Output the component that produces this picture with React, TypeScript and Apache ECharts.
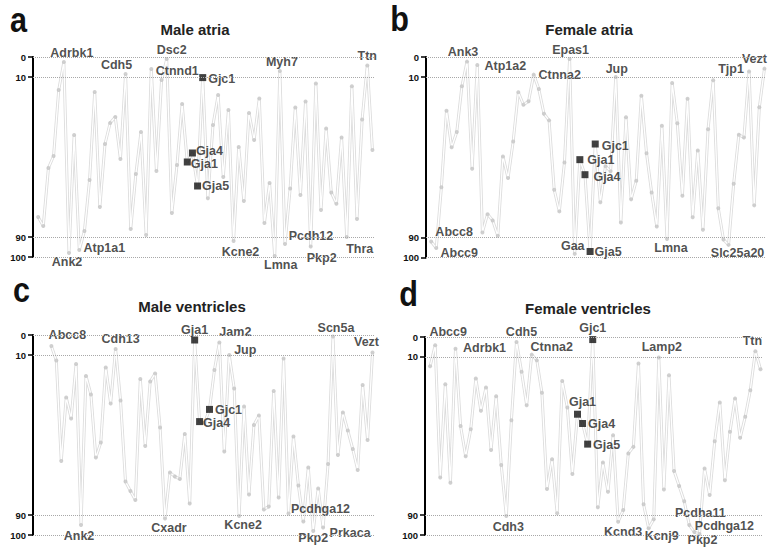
import React, { useEffect, useRef } from "react";
import * as echarts from "echarts";

// ---------- data ----------
const panelLetters = ["a", "b", "c", "d"];
const panelTitles = ["Male atria", "Female atria", "Male ventricles", "Female ventricles"];
const yTickValues = [0, 10, 90, 100];

const valuesA = [
  80, 84.5, 55.5, 49.5, 16.5, 2.5, 98, 39, 96.5, 87, 61.5, 17.5, 75, 43.5, 33, 30, 51, 8.5, 86, 58.5,
  37.5, 89, 6, 57, 11.5, 1, 78, 54, 23.5, 52.5, 48, 64.5, 10.3, 70.6, 34, 19, 60, 26.5, 92, 45,
  72, 28, 41.5, 20.7, 83, 63, 99.5, 7, 93.5, 65.7, 25.3, 69, 22.3, 94.8, 13.2, 76.5, 35.7, 67.8, 73.4, 40.2,
  90, 14.6, 81, 31.2, 4.2, 46.5,
];
const valuesB = [
  92, 95.3, 65, 26.8, 45, 37.4, 14.6, 2.3, 55.7, 4, 87.5, 78.4, 81.5, 89.2, 49.6, 60.4, 42.1, 17.6, 23.8, 22.1,
  8.8, 16, 28.3, 31.6, 66.2, 77, 52.6, 1, 98.2, 51.2, 58.7, 97, 43.4, 72.4, 54.5, 57, 10, 82.5, 30, 71,
  61.7, 19.3, 48, 67.6, 84.5, 34.3, 90.8, 13, 33, 69.2, 20.8, 79.9, 46.6, 86.2, 36, 11.6, 75.4, 91, 93.7, 63.2,
  38.8, 40.1, 7.2, 74, 25.1, 5.8,
];
const valuesC = [
  5.5, 12.8, 63, 31.2, 41.7, 14.5, 95, 20.5, 29.7, 61.3, 53.8, 16.2, 34.2, 7, 32.8, 73.3, 78, 82.5, 22, 55.5,
  23.3, 19.2, 46.3, 91.7, 68.8, 70.8, 72, 49.5, 84.2, 2.5, 43.3, 44, 37.2, 17.5, 3.8, 58.3, 10, 26.7, 90.5, 35.8,
  79.7, 45, 40.3, 87.2, 85.8, 28, 81.3, 11.7, 89.2, 50.8, 75.3, 93.3, 66.2, 98, 76.7, 96.3, 64.5, 0.8, 60, 38.8,
  47.8, 57, 67.5, 25, 52.5, 8.8,
];
const valuesD = [
  14.8, 4.2, 71, 23.9, 73.6, 5.9, 45, 60.2, 46.6, 21, 37.3, 25.5, 57.1, 29.9, 64.7, 90.4, 42, 2.5, 17.6, 34.5,
  8.9, 11.8, 28.2, 76.8, 61.7, 89, 22.2, 35.6, 69.2, 39, 43.7, 54.1, 1.3, 86, 63.4, 78.2, 49.6, 93.3, 87.4, 58.8,
  55.5, 13.4, 84.5, 96.6, 92.1, 10.4, 77, 19.3, 67.7, 75.3, 83, 95, 98.5, 99.5, 66.4, 79.8, 52.6, 33.1, 72.3, 47.9,
  31.1, 50.9, 40.3, 26.9, 7.2, 16.3,
];

// labelled genes (index in the sorted gene list, name)
const genesA: [number, string][] = [
  [5, "Adrbk1"], [6, "Ank2"], [8, "Atp1a1"], [17, "Cdh5"], [22, "Ctnnd1"], [25, "Dsc2"],
  [38, "Kcne2"], [46, "Lmna"], [47, "Myh7"], [48, "Pcdh12"], [53, "Pkp2"], [60, "Thra"], [64, "Ttn"],
];
const genesB: [number, string][] = [
  [0, "Abcc8"], [1, "Abcc9"], [7, "Ank3"], [9, "Atp1a2"], [20, "Ctnna2"], [27, "Epas1"], [28, "Gaa"],
  [36, "Jup"], [46, "Lmna"], [58, "Slc25a20"], [62, "Tjp1"], [65, "Vezt"],
];
const genesC: [number, string][] = [
  [0, "Abcc8"], [6, "Ank2"], [13, "Cdh13"], [23, "Cxadr"], [34, "Jam2"], [36, "Jup"], [38, "Kcne2"],
  [48, "Pcdhga12"], [53, "Pkp2"], [55, "Prkaca"], [57, "Scn5a"], [65, "Vezt"],
];
const genesD: [number, string][] = [
  [1, "Abcc9"], [5, "Adrbk1"], [15, "Cdh3"], [17, "Cdh5"], [20, "Ctnna2"], [37, "Kcnd3"], [43, "Kcnj9"],
  [45, "Lamp2"], [51, "Pcdha11"], [52, "Pcdhga12"], [53, "Pkp2"], [64, "Ttn"],
];
// connexins (black squares)
const connexinsA: [number, string][] = [[29, "Gja1"], [30, "Gja4"], [31, "Gja5"], [32, "Gjc1"]];
const connexinsB: [number, string][] = [[29, "Gja1"], [30, "Gja4"], [31, "Gja5"], [32, "Gjc1"]];
const connexinsC: [number, string][] = [[29, "Gja1"], [30, "Gja4"], [32, "Gjc1"]];
const connexinsD: [number, string][] = [[29, "Gja1"], [30, "Gja4"], [31, "Gja5"], [32, "Gjc1"]];

// ---------- layout / style ----------
const offsetsA: Record<string, [number, number]> = {
  Adrbk1: [8, -9], Ank2: [-2, 9], Atp1a1: [25, -2], Cdh5: [-9, -9], Ctnnd1: [26, 2], Dsc2: [5, -9],
  Gja1: [17, 2], Gja4: [17, -2], Gja5: [18, 0], Gjc1: [19, 1], Kcne2: [7, 11], Lmna: [6, 9], Myh7: [2, -9],
  Pcdh12: [26, -8], Pkp2: [11, 11], Thra: [13, 12], Ttn: [0, -9],
};
const offsetsB: Record<string, [number, number]> = {
  Abcc8: [23, -9], Abcc9: [23, 5], Ank3: [-4, -10], Atp1a2: [28, 1], Ctnna2: [26, 0], Epas1: [1, -9],
  Gaa: [-2, -8], Gja1: [21, 0], Gja4: [22, 2], Gja5: [18, 1], Gjc1: [20, 2], Jup: [1, -8], Lmna: [4, 9],
  Slc25a20: [9, 8], Tjp1: [-18, -2], Vezt: [-10, -10],
};
const offsetsC: Record<string, [number, number]> = {
  Abcc8: [16, -11], Ank2: [-2, 11], Cdh13: [5, -10], Cxadr: [4, 10], Gja1: [0, -10], Gja4: [17, 1],
  Gjc1: [19, 1], Jam2: [16, -11], Jup: [16, -5], Kcne2: [4, 9], Pcdhga12: [32, -4], Pkp2: [0, 7],
  Prkaca: [27, 5], Scn5a: [3, -9], Vezt: [-6, -11],
};
const offsetsD: Record<string, [number, number]> = {
  Abcc9: [13, -13], Adrbk1: [29, -1], Cdh3: [2, 11], Cdh5: [5, -10], Ctnna2: [20, -8], Gja1: [5, -12],
  Gja4: [19, 0], Gja5: [19, 1], Gjc1: [0, -12], Kcnd3: [5, 10], Kcnj9: [13, 8], Lamp2: [3, -11],
  Pcdha11: [11, -12], Pcdhga12: [30, -6], Pkp2: [3, 6], Ttn: [-3, -10],
};

const panels = [
  { values: valuesA, genes: genesA, conn: connexinsA, offsets: offsetsA,
    grid: { left: 33, top: 57, width: 342, height: 200 }, xMin: -1, xMax: 65.5,
    letter: { x: 18.5, y: 20 }, title: { x: 195, y: 29 } },
  { values: valuesB, genes: genesB, conn: connexinsB, offsets: offsetsB,
    grid: { left: 426, top: 57, width: 340, height: 200.5 }, xMin: -1, xMax: 65.3,
    letter: { x: 399.5, y: 18.5 }, title: { x: 589, y: 29 } },
  { values: valuesC, genes: genesC, conn: connexinsC, offsets: offsetsC,
    grid: { left: 33, top: 335, width: 341, height: 200 }, xMin: -3.72, xMax: 65.3,
    letter: { x: 21.5, y: 290 }, title: { x: 192, y: 306 } },
  { values: valuesD, genes: genesD, conn: connexinsD, offsets: offsetsD,
    grid: { left: 425, top: 337, width: 337, height: 198 }, xMin: -1, xMax: 65.3,
    letter: { x: 408.5, y: 294 }, title: { x: 588, y: 308 } },
];

const FONT = "'Liberation Sans', Arial, Helvetica, sans-serif";
const labelBase = {
  show: true,
  position: "inside",
  fontFamily: FONT,
  fontWeight: "bold",
  fontSize: 12.5,
  color: "#222",
};

function buildOption() {
  const grid: any[] = [];
  const xAxis: any[] = [];
  const yAxis: any[] = [];
  const series: any[] = [];
  const graphic: any[] = [];

  panels.forEach((p, k) => {
    grid.push({ ...p.grid, containLabel: false });
    xAxis.push({ gridIndex: k, type: "value", min: p.xMin, max: p.xMax, show: false });
    yAxis.push({
      gridIndex: k,
      type: "value",
      min: 0,
      max: 100,
      interval: 10,
      inverse: true,
      axisLine: { show: true, onZero: false, lineStyle: { color: "#000", width: 2 } },
      axisTick: { show: true, length: 5, customValues: yTickValues, lineStyle: { color: "#000", width: 1.5 } },
      axisLabel: {
        customValues: yTickValues,
        fontFamily: FONT,
        fontWeight: "bold",
        fontSize: 9.5,
        color: "#111",
        margin: 7,
      },
      splitLine: { show: false },
    });

    const pts = p.values.map((v, i) => [i, v]);
    const connSet = new Map(p.conn.map((c) => [c[0], c[1]]));
    const geneMap = new Map(p.genes.map((g) => [g[0], g[1]]));

    series.push({
      type: "line",
      xAxisIndex: k,
      yAxisIndex: k,
      data: pts,
      showSymbol: false,
      symbol: "none",
      z: 1,
      lineStyle: { color: "#dcdcdc", width: 3 },
      silent: true,
      markLine: {
        silent: true,
        symbol: ["none", "none"],
        label: { show: false },
        lineStyle: { type: "dotted", color: "#a8a8a8", width: 1 },
        data: yTickValues.map((v) => ({ yAxis: v })),
      },
    });
    series.push({
      type: "line",
      xAxisIndex: k,
      yAxisIndex: k,
      data: pts,
      showSymbol: false,
      symbol: "none",
      z: 2,
      lineStyle: { color: "#ffffff", width: 1.3 },
      silent: true,
    });

    const grayData = pts
      .filter((pt) => !connSet.has(pt[0]))
      .map((pt) => {
        const name = geneMap.get(pt[0]);
        if (!name) return { value: pt };
        return {
          value: pt,
          label: { ...labelBase, formatter: name, offset: p.offsets[name] || [0, -10] },
        };
      });
    series.push({
      type: "scatter",
      xAxisIndex: k,
      yAxisIndex: k,
      data: grayData,
      symbol: "circle",
      symbolSize: 4,
      z: 3,
      itemStyle: { color: "#c4c4c4" },
      label: { show: false },
    });

    const blackData = pts
      .filter((pt) => connSet.has(pt[0]))
      .map((pt) => {
        const name = connSet.get(pt[0]) as string;
        return {
          value: pt,
          label: { ...labelBase, formatter: name, offset: p.offsets[name] || [18, 0] },
        };
      });
    series.push({
      type: "scatter",
      xAxisIndex: k,
      yAxisIndex: k,
      data: blackData,
      symbol: "rect",
      symbolSize: 7,
      z: 4,
      itemStyle: { color: "#111" },
    });

    graphic.push({
      type: "text",
      x: p.letter.x,
      y: p.letter.y,
      scaleX: 0.85,
      style: {
        text: panelLetters[k],
        fontFamily: FONT,
        fontWeight: "bold",
        fontSize: 36,
        fill: "#111",
        align: "center",
        verticalAlign: "middle",
      },
    });
    graphic.push({
      type: "text",
      x: p.title.x,
      y: p.title.y,
      style: {
        text: panelTitles[k],
        fontFamily: FONT,
        fontWeight: "bold",
        fontSize: 15,
        fill: "#222",
        align: "center",
        verticalAlign: "middle",
      },
    });
  });

  return {
    animation: false,
    backgroundColor: "#ffffff",
    grid,
    xAxis,
    yAxis,
    series,
    graphic,
  };
}

export default function App() {
  const ref = useRef<HTMLDivElement>(null);
  useEffect(() => {
    if (!ref.current) return;
    const chart = echarts.init(ref.current, null, { renderer: "svg" });
    chart.setOption(buildOption() as any);
    return () => chart.dispose();
  }, []);
  return (
    <div
      ref={ref}
      style={{ position: "absolute", left: 0, top: 0, width: 770, height: 547, background: "#fff" }}
    />
  );
}
